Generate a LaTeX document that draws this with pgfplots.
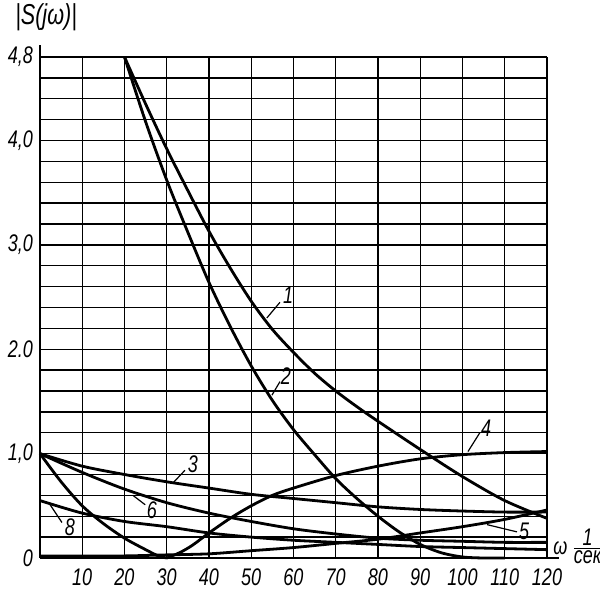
\documentclass[border=0pt]{standalone}
\usepackage{fontspec}
\setmainfont{Liberation Sans}[FakeStretch=0.75]
\usepackage{pgfplots}
\pgfplotsset{compat=1.18}
\tikzset{crv/.style={black, solid, line width=1.4pt, smooth, mark=none}}
\begin{document}
\begin{tikzpicture}
\begin{axis}[
  scale only axis, width=253.5pt, height=250.5pt,
  xmin=0, xmax=120, ymin=0, ymax=4.8,
  axis lines=left,
  axis line style={-, line width=1.3pt},
  x axis line style={shorten >=-6pt},
  y axis line style={shorten >=-6pt},
  xtick={10,20,30,40,50,60,70,80,90,100,110,120},
  ytick={0,1,2,3,4,4.8},
  yticklabels={0,{1,0},2.0,{3,0},{4,0},{4,8}},
  minor ytick={0.2,0.4,0.6,0.8,1.2,1.4,1.6,1.8,2.2,2.4,2.6,2.8,3.2,3.4,3.6,3.8,4.2,4.4,4.6},
  grid=both,
  major grid style={black, line width=0.65pt},
  minor grid style={black, line width=0.65pt},
  major tick length=0pt, minor tick length=0pt,
  /pgf/number format/assume math mode=true,
  xticklabel style={font=\large\itshape, yshift=-2pt},
  yticklabel style={font=\large\itshape},
  clip=false,
]
% curve 1
\addplot[crv] coordinates {(20,4.8)(25,4.35)(30,3.92)(35,3.52)(40,3.13)(45,2.78)(50,2.46)(55,2.19)(60,1.97)(65,1.77)(70,1.60)(75,1.45)(80,1.31)(90,1.04)(100,0.78)(110,0.55)(120,0.38)};
% curve 2
\addplot[crv] coordinates {(20,4.8)(25,4.18)(30,3.62)(35,3.12)(40,2.64)(45,2.22)(50,1.84)(55,1.51)(60,1.23)(65,0.99)(70,0.76)(75,0.57)(80,0.40)(85,0.25)(90,0.13)(95,0.05)(100,0.01)(105,0)(110,0)};
% curve 3
\addplot[crv] coordinates {(0,1.0)(10,0.88)(20,0.80)(30,0.73)(40,0.67)(50,0.61)(60,0.57)(70,0.53)(80,0.49)(90,0.465)(100,0.45)(110,0.44)(120,0.44)};
% curve 4
\addplot[crv] coordinates {(0,1.0)(5,0.73)(10,0.50)(15,0.33)(20,0.19)(25,0.08)(28,0.02)(30,0)};
\addplot[crv] coordinates {(30,0)(33,0.05)(36,0.12)(40,0.24)(45,0.38)(50,0.50)(55,0.60)(60,0.67)(70,0.79)(80,0.88)(90,0.95)(100,0.99)(110,1.01)(120,1.02)};
% curve 5
\addplot[crv] coordinates {(0,0.02)(10,0.02)(20,0.02)(30,0.03)(40,0.04)(50,0.07)(60,0.10)(70,0.14)(80,0.18)(90,0.24)(100,0.30)(110,0.37)(120,0.46)};
% curve 6
\addplot[crv] coordinates {(0,1.0)(10,0.82)(20,0.66)(30,0.53)(40,0.43)(50,0.35)(60,0.28)(70,0.23)(80,0.19)(90,0.17)(100,0.16)(110,0.15)(120,0.15)};
% curve 8
\addplot[crv] coordinates {(0,0.55)(10,0.43)(20,0.35)(30,0.30)(40,0.24)(50,0.20)(60,0.17)(70,0.15)(80,0.13)(90,0.11)(100,0.10)(110,0.09)(120,0.08)};

% leaders and labels
\draw[line width=0.6pt] (axis cs:53.7,2.30)--(axis cs:56.8,2.45);
\node[font=\large\itshape] at (axis cs:58.7,2.52) {1};
\draw[line width=0.6pt] (axis cs:54.9,1.56)--(axis cs:56.8,1.69);
\node[font=\large\itshape] at (axis cs:58.2,1.74) {2};
\draw[line width=0.6pt] (axis cs:31.5,0.72)--(axis cs:34.3,0.84);
\node[font=\large\itshape] at (axis cs:36.2,0.90) {3};
\draw[line width=0.6pt] (axis cs:101.3,1.02)--(axis cs:104.1,1.20);
\node[font=\large\itshape] at (axis cs:105.6,1.24) {4};
\draw[line width=0.6pt] (axis cs:105.8,0.32)--(axis cs:112.9,0.25);
\node[font=\large\itshape] at (axis cs:114.6,0.26) {5};
\draw[line width=0.6pt] (axis cs:22,0.60)--(axis cs:24.9,0.51);
\node[font=\large\itshape] at (axis cs:26.5,0.46) {6};
\draw[line width=0.6pt] (axis cs:2.4,0.51)--(axis cs:5.2,0.34);
\node[font=\large\itshape] at (axis cs:7.1,0.29) {8};

\node[font=\Large\itshape] at (rel axis cs:0.012,1.08) {|S(jω)|};
\node[font=\large\itshape, anchor=west, inner sep=0pt] at (axis cs:120,0) [xshift=3pt, yshift=6pt] {ω\,$\frac{\mbox{\itshape 1}}{\mbox{\itshape сек}}$};
\end{axis}
\pgfresetboundingbox
\path[use as bounding box] (-20pt,-16pt) rectangle (280pt,279pt);
\end{tikzpicture}
\end{document}
